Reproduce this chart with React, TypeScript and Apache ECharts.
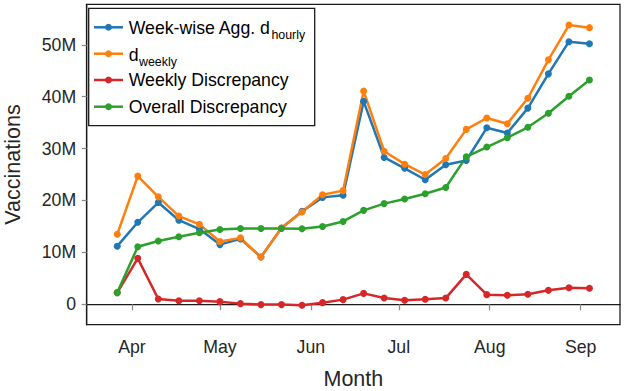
import React, { useEffect, useRef } from "react";
import * as echarts from "echarts";

// Weekly dates (2021)
const dates = [
  "2021-03-27", "2021-04-03", "2021-04-10", "2021-04-17", "2021-04-24",
  "2021-05-01", "2021-05-08", "2021-05-15", "2021-05-22", "2021-05-29",
  "2021-06-05", "2021-06-12", "2021-06-19", "2021-06-26", "2021-07-03",
  "2021-07-10", "2021-07-17", "2021-07-24", "2021-07-31", "2021-08-07",
  "2021-08-14", "2021-08-21", "2021-08-28", "2021-09-04",
];

// values in millions
const weekAggHourly = [11.2, 15.8, 19.6, 16.2, 14.5, 11.5, 12.6, 9.1, 14.7, 17.9, 20.6, 21.0, 39.1, 28.3, 26.2, 24.0, 26.9, 27.7, 34.0, 33.0, 37.8, 44.4, 50.6, 50.2];
const dWeekly = [13.5, 24.7, 20.7, 17.0, 15.4, 12.1, 12.8, 9.1, 14.7, 17.8, 21.1, 21.9, 41.1, 29.5, 27.0, 25.0, 28.1, 33.7, 35.9, 34.8, 39.7, 47.1, 53.8, 53.3];
const weeklyDiscrepancy = [2.25, 8.85, 1.03, 0.7, 0.7, 0.51, 0.13, -0.06, -0.06, -0.19, 0.32, 0.9, 2.1, 1.2, 0.77, 0.96, 1.2, 5.77, 1.86, 1.73, 1.92, 2.69, 3.2, 3.08];
const overallDiscrepancy = [2.25, 11.1, 12.2, 13.0, 13.8, 14.4, 14.6, 14.6, 14.6, 14.55, 15.0, 15.96, 18.1, 19.4, 20.3, 21.3, 22.5, 28.4, 30.3, 32.1, 34.1, 36.8, 40.1, 43.2];

const monthTicks = ["2021-04-01", "2021-05-01", "2021-06-01", "2021-07-01", "2021-08-01", "2021-09-01"];
const monthLabels = ["Apr", "May", "Jun", "Jul", "Aug", "Sep"];
const yTickValues = [0, 10, 20, 30, 40, 50];
const yTickLabels = ["0", "10M", "20M", "30M", "40M", "50M"];

const colors = ["#1f77b4", "#ff7f0e", "#d62728", "#2ca02c"];
const FONT = '"Liberation Sans", Arial, sans-serif';
const TXT = "#262626";

function toTs(s: string) {
  const [y, m, d] = s.split("-").map(Number);
  return Date.UTC(y, m - 1, d);
}

export default function App() {
  const ref = useRef<HTMLDivElement>(null);
  useEffect(() => {
    if (!ref.current) return;
    const chart = echarts.init(ref.current, null, { renderer: "svg" });
    const xs = dates.map(toTs);
    const tickTs = monthTicks.map(toTs);
    const mk = (name: string, vals: number[], color: string) => ({
      name,
      type: "line",
      data: vals.map((v, i) => [xs[i], v * 1e6]),
      symbol: "circle",
      symbolSize: 7,
      showSymbol: true,
      lineStyle: { width: 2.5, color },
      itemStyle: { color },
      emphasis: { disabled: true },
    });
    const rowYs = [27.3, 53.7, 80, 106.7];
    const labels = [
      "{a|Week-wise Agg. d}{b|hourly}",
      "{a|d}{b|weekly}",
      "{a|Weekly Discrepancy}",
      "{a|Overall Discrepancy}",
    ];
    const rich = {
      a: { fontSize: 17.7, fontFamily: FONT, color: TXT, lineHeight: 27, verticalAlign: "middle" },
      b: { fontSize: 12.4, fontFamily: FONT, color: TXT, lineHeight: 13, verticalAlign: "bottom", padding: [0, 0, 0, 0.5] },
    };
    const legendEls: any[] = [
      {
        type: "rect",
        shape: { x: 88.7, y: 8.3, width: 226, height: 117.4 },
        style: { fill: "#fff", stroke: "#1a1a1a", lineWidth: 1.3 },
        z: 100,
      },
    ];
    rowYs.forEach((y, i) => {
      legendEls.push({
        type: "line",
        shape: { x1: 94, y1: y, x2: 123, y2: y },
        style: { stroke: colors[i], lineWidth: 2.5 },
        z: 101,
      });
      legendEls.push({
        type: "circle",
        shape: { cx: 108.5, cy: y, r: 3.4 },
        style: { fill: colors[i] },
        z: 102,
      });
      legendEls.push({
        type: "text",
        x: 128.7,
        y: y + (i === 1 ? 0.8 : 0.2),
        style: {
          text: labels[i],
          rich,
          verticalAlign: "middle",
          align: "left",
          fontFamily: FONT,
        },
        z: 102,
      });
    });

    chart.setOption({
      animation: false,
      grid: {
        left: 86.7, right: 6, top: 4.3, bottom: 66.3,
        show: true, borderColor: "#1a1a1a", borderWidth: 1.25,
        containLabel: false,
        outerBoundsMode: "none",
      },
      xAxis: {
        type: "value",
        min: Date.UTC(2021, 2, 16, 14),
        max: Date.UTC(2021, 8, 14, 10),
        name: "Month",
        nameLocation: "middle",
        nameGap: 43,
        nameTextStyle: { fontSize: 21.5, fontFamily: FONT, color: TXT },
        axisLine: { show: true, lineStyle: { color: "#1a1a1a", width: 1.25 } },
        axisTick: { show: true, length: 6, lineStyle: { color: "#8c8c8c", width: 1.25 }, customValues: tickTs },
        axisLabel: {
          show: true,
          customValues: tickTs,
          margin: 13,
          fontSize: 17.7,
          fontFamily: FONT,
          color: TXT,
          formatter: (v: number) => {
            const idx = tickTs.indexOf(v);
            return idx >= 0 ? monthLabels[idx] : "";
          },
        },
        splitLine: { show: false },
      },
      yAxis: {
        type: "value",
        min: -3.93e6,
        max: 57.8e6,
        name: "Vaccinations",
        nameLocation: "middle",
        nameGap: 63,
        nameTextStyle: { fontSize: 21.5, fontFamily: FONT, color: TXT },
        axisLine: { show: true, lineStyle: { color: "#1a1a1a", width: 1.25 } },
        axisTick: { show: true, length: 5, lineStyle: { color: "#8c8c8c", width: 1.25 }, customValues: yTickValues.map((v) => v * 1e6) },
        axisLabel: {
          show: true,
          customValues: yTickValues.map((v) => v * 1e6),
          margin: 10.5,
          fontSize: 17.7,
          fontFamily: FONT,
          color: TXT,
          formatter: (v: number) => {
            const idx = yTickValues.indexOf(Math.round(v / 1e6));
            return idx >= 0 ? yTickLabels[idx] : "";
          },
        },
        splitLine: { show: false },
      },
      series: [
        mk("Week-wise Agg. d_hourly", weekAggHourly, colors[0]),
        mk("d_weekly", dWeekly, colors[1]),
        mk("Weekly Discrepancy", weeklyDiscrepancy, colors[2]),
        mk("Overall Discrepancy", overallDiscrepancy, colors[3]),
      ],
      graphic: legendEls,
    });
    return () => chart.dispose();
  }, []);
  return (
    <div
      ref={ref}
      style={{ position: "absolute", left: 0, top: 0, width: 626, height: 391, background: "#fff" }}
    />
  );
}
